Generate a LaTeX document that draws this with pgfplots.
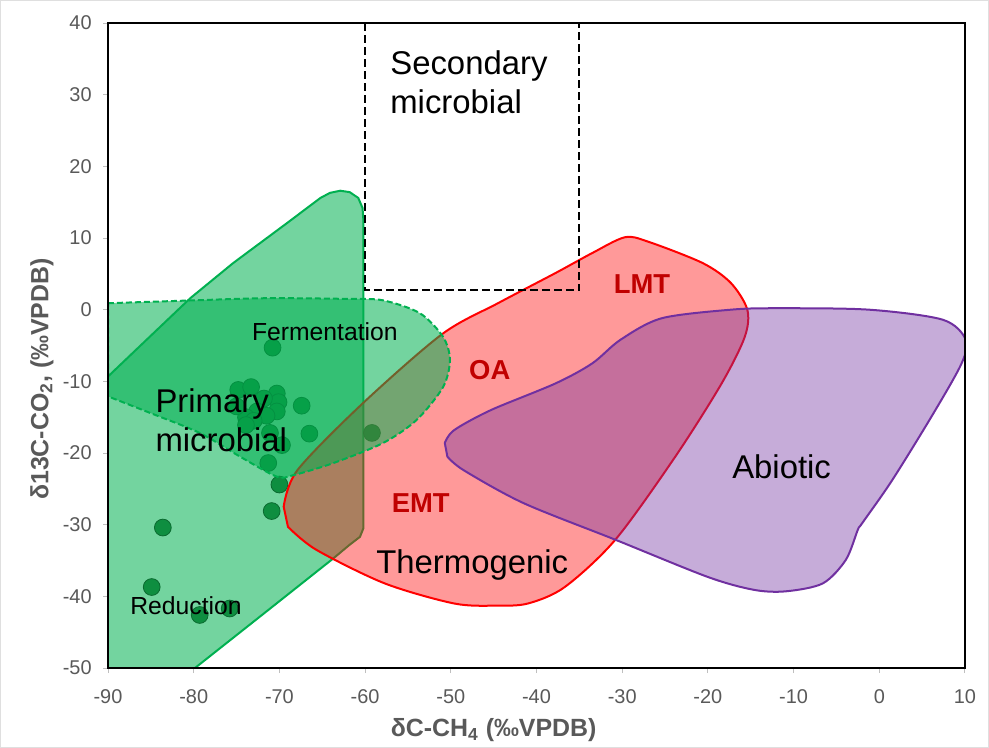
\documentclass[border=0pt]{standalone}
\usepackage{fontspec}
\setmainfont{Liberation Sans}
\usepackage{pgfplots}
\pgfplotsset{compat=1.18}
\definecolor{pgreen}{HTML}{00B050}
\definecolor{tred}{HTML}{FF0000}
\definecolor{apurple}{HTML}{7030A0}
\definecolor{lab}{HTML}{C00000}
\definecolor{axgray}{HTML}{595959}
\definecolor{mk}{HTML}{0E8E40}
\definecolor{mkd}{HTML}{0A6A30}
\begin{document}
\begin{tikzpicture}
\useasboundingbox (0,0) rectangle (494.5bp,374bp);
\draw[gray!25, line width=0.5bp] (0.5bp,0.5bp) rectangle (494bp,373.5bp);
\begin{axis}[
  at={(54bp,40bp)}, anchor=south west,
  width=428.5bp, height=322.5bp, scale only axis,
  xmin=-90, xmax=10, ymin=-50, ymax=40,
  xtick={-90,-80,...,10}, ytick={-50,-40,...,40},
  xticklabels={-90,-80,-70,-60,-50,-40,-30,-20,-10,0,10},
  yticklabels={-50,-40,-30,-20,-10,0,10,20,30,40},
  tick pos=left, tick align=outside, major tick length=2.5bp,
  tick style={gray!50, line width=0.5bp},
  axis line style={black, line width=1bp},
  ticklabel style={font=\fontsize{10}{12}\selectfont, text=axgray, inner sep=0pt},
  xticklabel style={anchor=center, yshift=-12bp},
  yticklabel style={anchor=east, xshift=-5.5bp},
  xlabel={\bfseries δC-CH\textsubscript{4} (‰VPDB)},
  ylabel={\bfseries δ13C-CO\textsubscript{2}, (‰VPDB)},
  xlabel style={at={([yshift=-31bp]rel axis cs:0.45,0)}, anchor=center, font=\fontsize{12.5}{15}\selectfont, text=axgray, inner sep=0pt},
  ylabel style={at={([xshift=-33bp]rel axis cs:0,0.448)}, anchor=center, font=\fontsize{12.5}{15}\selectfont, text=axgray, inner sep=0pt},
  axis on top,
  clip marker paths=true,
]
% Primary microbial
\addplot[draw=pgreen, line width=1bp, fill=pgreen, fill opacity=0.55] coordinates {
(-90.5,-50.5) (-79.85,-50) (-71.5,-42.1) (-63.7,-34.7) (-61.8,-32.8) (-60.6,-31.7) (-60.2,-30.5)
(-60.2,12.5) (-60.3,14.2) (-60.8,15.6) (-61.8,16.4) (-62.9,16.6) (-64.1,16.3) (-65.2,15.6)
(-69.15,12.05) (-75.4,6.5) (-80.4,1.6) (-85.5,-4.2) (-90.15,-9.5)
} -- cycle;
% data points
\addplot[only marks, mark=*, mark size=4.2bp, mark options={fill=mk, draw=mkd, line width=0.4bp}] coordinates {
(-70.8,-5.3) (-74.8,-11.2) (-73.3,-10.8) (-70.3,-11.7) (-70.1,-12.9) (-71.8,-12.4)
(-72.6,-14.2) (-70.3,-14.2) (-71.5,-14.8) (-73.9,-15.0) (-75.0,-13.5) (-73.0,-15.5)
(-73.9,-16.1) (-71.1,-17.2) (-69.7,-18.9) (-67.4,-13.4) (-66.5,-17.3) (-71.3,-21.4)
(-70.0,-24.4) (-70.9,-28.1) (-59.2,-17.2) (-83.6,-30.4) (-84.9,-38.7) (-79.3,-42.6) (-75.8,-41.7)
};
% Thermogenic
\addplot[smooth, draw=tred, line width=1bp, fill=tred, fill opacity=0.4] coordinates {
(-69.5,-27.5) (-67.9,-22.4) (-60.3,-13.1) (-51,-3.4) (-44.5,0.9) (-37.8,5.1) (-33.5,7.9)
(-29.7,10.1) (-27,9.5) (-20.6,6.5) (-17.3,3.7) (-15.4,0) (-15.7,-3.8) (-18.4,-10.3)
(-23.8,-20.5) (-30.8,-32.1) (-36.7,-38.7) (-41,-41) (-44.7,-41.3) (-49.6,-41) (-57.7,-38.2)
(-65.7,-33.5) (-69,-30.3)
} -- cycle;
% Abiotic
\addplot[smooth, draw=apurple, line width=1bp, fill=apurple, fill opacity=0.4] coordinates {
(-50.7,-18.6) (-49.6,-16.8) (-45.3,-14.0) (-37.8,-10.3) (-33.5,-7.5) (-30.2,-4.2) (-25.4,-1.2)
(-17.3,0) (-12,0.2) (-1.2,0) (7.4,-1.4) (10.1,-4.2) (9.6,-7.5) (6.3,-14.5) (1.5,-23.8)
(-2,-29.8) (-2.5,-30.7) (-3.9,-34.9) (-6.6,-38.2) (-10.9,-39.3) (-14.6,-39.1) (-20,-37.3)
(-30.8,-32.1) (-41.5,-27.0) (-48.5,-22.4) (-50.4,-20.5)
} -- cycle;
% Fermentation
\addplot[smooth, draw=pgreen, line width=1bp, dash pattern=on 3bp off 1.5bp, fill=pgreen, fill opacity=0.55] coordinates {
(-90,0.9) (-80,1.3) (-71.5,1.6) (-62,1.5) (-57.9,1.3) (-53.6,-0.5) (-50.9,-3.8) (-50.1,-7.0)
(-50.9,-10.8) (-54,-15.4) (-57.9,-18.6) (-63.7,-21.4) (-68.4,-23.1) (-70.3,-23.3) (-74.6,-20.5)
(-79.3,-17.2) (-85.1,-14.4) (-90,-12.1)
} -- cycle;
% Secondary microbial box
\addplot[black, line width=1bp, dash pattern=on 4bp off 2bp] coordinates {
(-60,40) (-60,2.7) (-35,2.7) (-35,40)
};
\node[anchor=west, align=left, inner sep=0pt, font=\fontsize{16.5}{19.5}\selectfont] at (axis cs:-57.1,31.7) {Secondary\\microbial};
\node[anchor=west, align=left, inner sep=0pt, font=\fontsize{16.5}{19.5}\selectfont] at (axis cs:-84.5,-15.4) {Primary\\microbial};
\node[inner sep=0pt, font=\fontsize{12.4}{14}\selectfont] at (axis cs:-64.7,-3.1) {Fermentation};
\node[inner sep=0pt, font=\fontsize{12.4}{14}\selectfont] at (axis cs:-80.9,-41.3) {Reduction};
\node[anchor=base, inner sep=0pt, font=\fontsize{16.5}{19.5}\selectfont] at (axis cs:-47.5,-36.8) {Thermogenic};
\node[anchor=base, inner sep=0pt, font=\fontsize{16.5}{19.5}\selectfont] at (axis cs:-11.4,-23.5) {Abiotic};
\node[anchor=base, inner sep=0pt, text=lab, font=\bfseries\fontsize{13.75}{16}\selectfont] at (axis cs:-27.7,2.3) {LMT};
\node[anchor=base, inner sep=0pt, text=lab, font=\bfseries\fontsize{13.75}{16}\selectfont] at (axis cs:-45.45,-9.8) {OA};
\node[anchor=base, inner sep=0pt, text=lab, font=\bfseries\fontsize{13.75}{16}\selectfont] at (axis cs:-53.5,-28.3) {EMT};
\end{axis}
\end{tikzpicture}
\end{document}
